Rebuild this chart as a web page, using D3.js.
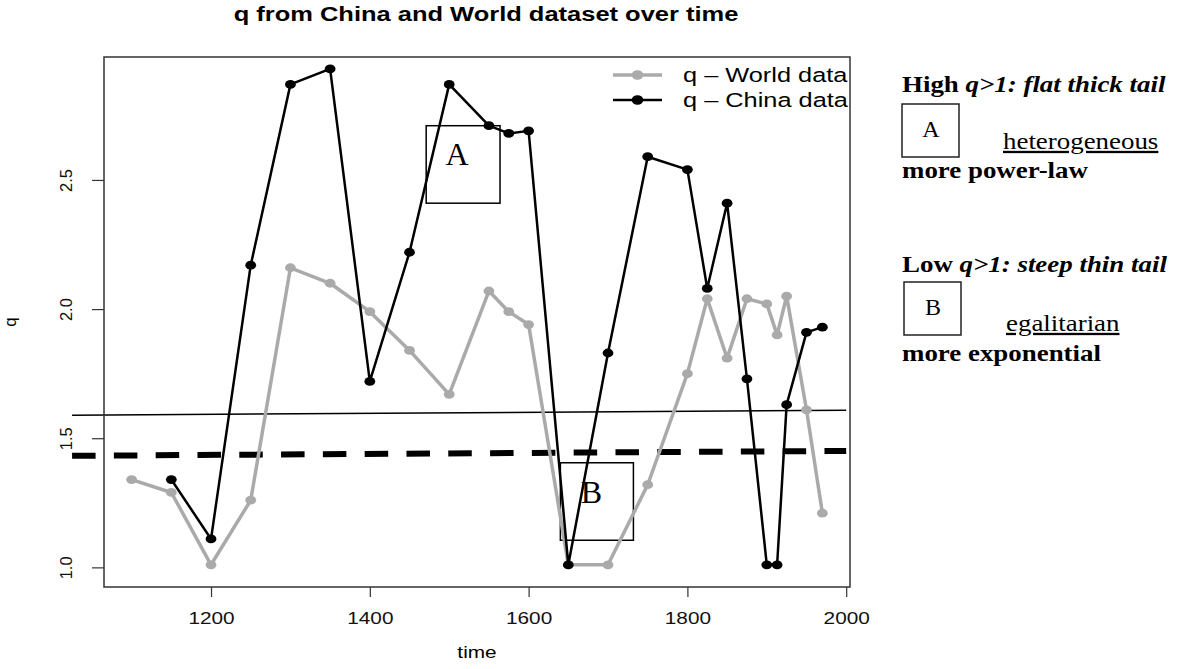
<!DOCTYPE html>
<html>
<head>
<meta charset="utf-8">
<script src="https://cdn.jsdelivr.net/npm/d3@7"></script>
<style>
  body { margin: 0; background: #fff; }
  svg { display: block; }
</style>
</head>
<body>
<div id="app"></div>
<script>
// data
const years  = [1100, 1150, 1200, 1250, 1300, 1350, 1400, 1450, 1500, 1550, 1575, 1600,
                1650, 1700, 1750, 1800, 1825, 1850, 1875, 1900, 1913, 1925, 1950, 1970];
const worldQ = [1.34, 1.29, 1.01, 1.26, 2.16, 2.10, 1.99, 1.84, 1.67, 2.07, 1.99, 1.94,
                1.01, 1.01, 1.32, 1.75, 2.04, 1.81, 2.04, 2.02, 1.90, 2.05, 1.61, 1.21];
const chinaQ = [null, 1.34, 1.11, 2.17, 2.87, 2.93, 1.72, 2.22, 2.87, 2.71, 2.68, 2.69,
                1.01, 1.83, 2.59, 2.54, 2.08, 2.41, 1.73, 1.01, 1.01, 1.63, 1.91, 1.93];
const seriesNames = ["q \u2013 World data", "q \u2013 China data"];
const xTicks = [1200, 1400, 1600, 1800, 2000];
const yTicks = [1.0, 1.5, 2.0, 2.5];

// the two reference lines
const refYears  = [1025, 2000];
const solidRef  = [1.589, 1.608];
const dashedRef = [1.432, 1.451];

// annotation boxes (data units)
const boxLabels = ["A", "B"];
const boxYears  = [[1471, 1564], [1640, 1732]];
const boxQ      = [[2.41, 2.71], [1.105, 1.405]];
const labelAt   = [[1510, 2.60], [1679, 1.29]];

const width = 1186, height = 669,
  plot = { left: 104, right: 850, top: 57, bottom: 587 },
  sx = 1.3,                 // the picture is stretched sideways
  sans = "'Liberation Sans', Arial, Helvetica, sans-serif",
  serif = "'Liberation Serif', 'Times New Roman', serif",
  grey = "#aaaaaa";

const svg = d3.select("#app")
  .append("svg")
    .attr("width", width)
    .attr("height", height);

const x = d3.scaleLinear().domain([1065.2, 2004.8]).range([plot.left, plot.right]);
const y = d3.scaleLinear().domain([0.924, 2.976]).range([plot.bottom, plot.top]);

/* axes */
const xAxis = svg.append("g")
  .attr("transform", `translate(0,${plot.bottom})`)
  .call(d3.axisBottom(x).tickValues(xTicks).tickSize(10).tickFormat(d3.format("d")));
xAxis.select(".domain").remove();
xAxis.selectAll("line").attr("stroke", "#333").attr("stroke-width", 1.2);
xAxis.selectAll("text")
  .attr("y", 37).attr("dy", null)
  .attr("transform", `scale(${sx},1)`)
  .style("font-family", sans).style("font-size", "16px").attr("fill", "#111");

const yAxis = svg.append("g")
  .attr("transform", `translate(${plot.left},0)`)
  .call(d3.axisLeft(y).tickValues(yTicks).tickSize(12).tickFormat(d3.format(".1f")));
yAxis.select(".domain").remove();
yAxis.selectAll("line").attr("stroke", "#333").attr("stroke-width", 1.2);
yAxis.selectAll("text")
  .attr("x", 0).attr("dy", null)
  .attr("text-anchor", "middle")
  .attr("transform", "translate(-32,0) rotate(-90)")
  .style("font-family", sans).style("font-size", "16.5px").attr("fill", "#111");

svg.append("text")
  .attr("transform", `translate(${(plot.left + plot.right) / 2},658) scale(${sx},1)`)
  .attr("text-anchor", "middle")
  .style("font-family", sans).style("font-size", "16px")
  .text("time");

svg.append("text")
  .attr("transform", `translate(16,${(plot.top + plot.bottom) / 2}) rotate(-90)`)
  .attr("text-anchor", "middle")
  .style("font-family", sans).style("font-size", "17px")
  .text("q");

svg.append("text")
  .attr("transform", `translate(${(plot.left + plot.right) / 2 + 9},21) scale(${sx},1)`)
  .attr("text-anchor", "middle")
  .style("font-family", sans).style("font-size", "19.6px").style("font-weight", "bold")
  .text("q from China and World dataset over time");

/* reference lines, they run a little past the left edge */
svg.append("line")
  .attr("x1", x(refYears[0])).attr("x2", x(refYears[1]))
  .attr("y1", y(solidRef[0])).attr("y2", y(solidRef[1]))
  .attr("stroke", "#000").attr("stroke-width", 1.5);

svg.append("line")
  .attr("x1", x(refYears[0])).attr("x2", x(refYears[1]))
  .attr("y1", y(dashedRef[0])).attr("y2", y(dashedRef[1]))
  .attr("stroke", "#000").attr("stroke-width", 6)
  .attr("stroke-dasharray", "23.5 18.3");

/* annotation boxes */
boxLabels.forEach((lab, i) => {
  svg.append("rect")
    .attr("x", x(boxYears[i][0])).attr("width", x(boxYears[i][1]) - x(boxYears[i][0]))
    .attr("y", y(boxQ[i][1])).attr("height", y(boxQ[i][0]) - y(boxQ[i][1]))
    .attr("fill", "none").attr("stroke", "#000").attr("stroke-width", 1.5);
  svg.append("text")
    .attr("x", x(labelAt[i][0])).attr("y", y(labelAt[i][1]))
    .attr("dy", "0.33em")
    .attr("text-anchor", "middle")
    .style("font-family", serif).style("font-size", "32px")
    .text(lab);
});

/* series */
const line = d3.line()
  .defined(d => d[1] != null)
  .x(d => x(d[0]))
  .y(d => y(d[1]));

const series = [
  { vals: worldQ, color: grey, lw: 3.5 },
  { vals: chinaQ, color: "#000", lw: 2.5 }
];

series.forEach(s => {
  const pts = years.map((t, i) => [t, s.vals[i]]);
  svg.append("path")
    .attr("d", line(pts))
    .attr("fill", "none").attr("stroke", s.color).attr("stroke-width", s.lw)
    .attr("stroke-linejoin", "round");
  svg.append("g")
    .selectAll("ellipse")
    .data(pts.filter(d => d[1] != null))
    .enter()
    .append("ellipse")
      .attr("cx", d => x(d[0]))
      .attr("cy", d => y(d[1]))
      .attr("rx", 5.4).attr("ry", 4.4)
      .attr("fill", s.color);
});

/* plot frame */
svg.append("rect")
  .attr("x", plot.left).attr("y", plot.top)
  .attr("width", plot.right - plot.left).attr("height", plot.bottom - plot.top)
  .attr("fill", "none").attr("stroke", "#333").attr("stroke-width", 1.5);

/* legend */
const legend = svg.append("g")
  .selectAll("g")
  .data(seriesNames)
  .enter()
  .append("g")
    .attr("transform", (d, i) => `translate(613,${75 + i * 25})`);
legend.append("line")
  .attr("x1", 0).attr("x2", 49)
  .attr("stroke", (d, i) => series[i].color)
  .attr("stroke-width", (d, i) => series[i].lw);
legend.append("ellipse")
  .attr("cx", 24.5).attr("rx", 5.8).attr("ry", 4.8)
  .attr("fill", (d, i) => series[i].color);
legend.append("text")
  .attr("transform", `translate(70,7) scale(${sx},1)`)
  .style("font-family", sans).style("font-size", "19.5px")
  .text(d => d);

/* notes on the right */
const notes = svg.append("g").style("font-family", serif).style("font-size", "23px");
const sxs = 1.17, nx = 902;

function note(xp, yp, parts) {
  const t = notes.append("text").attr("transform", `translate(${xp},${yp}) scale(${sxs},1)`);
  parts.forEach(p => {
    t.append("tspan")
      .style("font-weight", p.b ? "bold" : "normal")
      .style("font-style", p.i ? "italic" : "normal")
      .style("text-decoration", p.u ? "underline" : "none")
      .text(p.t);
  });
}

note(nx, 92, [{ t: "High ", b: 1 }, { t: "q>1: flat thick tail", b: 1, i: 1 }]);
note(1003, 149, [{ t: "heterogeneous", u: 1 }]);
note(nx, 178, [{ t: "more power-law", b: 1 }]);
note(nx, 272, [{ t: "Low ", b: 1 }, { t: "q>1: steep thin tail", b: 1, i: 1 }]);
note(1006, 331, [{ t: "egalitarian", u: 1 }]);
note(nx, 361, [{ t: "more exponential", b: 1 }]);

[[nx, 104, "A"], [nx + 2, 282, "B"]].forEach(([bx, by, lab]) => {
  notes.append("rect")
    .attr("x", bx).attr("y", by).attr("width", 57).attr("height", 53)
    .attr("fill", "none").attr("stroke", "#222").attr("stroke-width", 1.5);
  notes.append("text")
    .attr("x", bx + 29).attr("y", by + 33)
    .attr("text-anchor", "middle")
    .style("font-size", "24px")
    .text(lab);
});
</script>
</body>
</html>
